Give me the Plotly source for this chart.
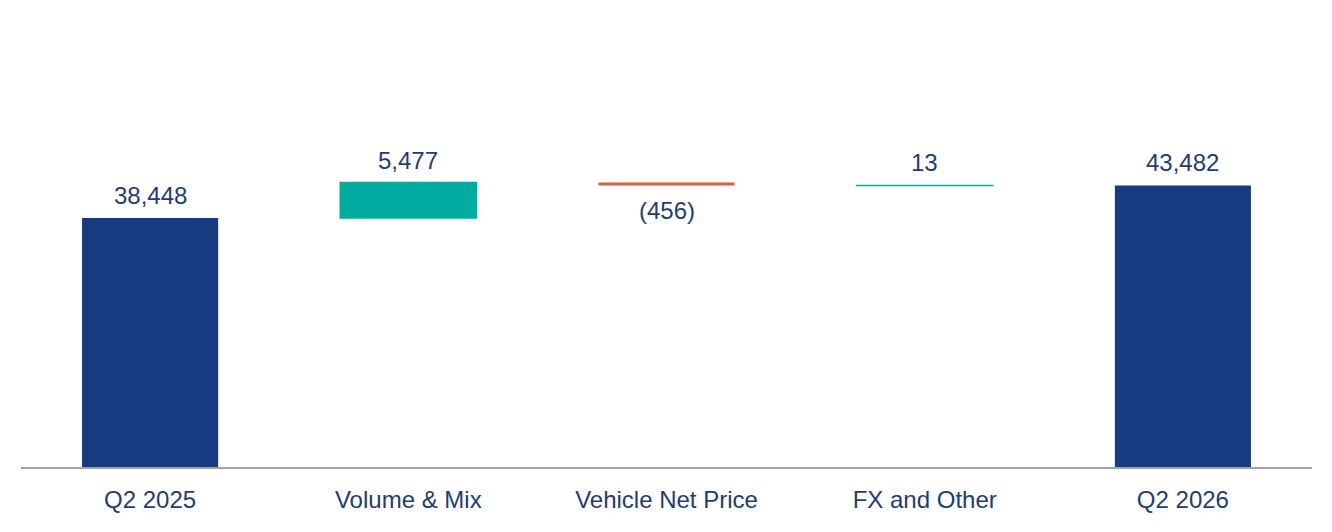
import plotly.graph_objects as go

# Waterfall data
categories = ['Q2 2025', 'Volume & Mix', 'Vehicle Net Price', 'FX and Other', 'Q2 2026']
measures = ['absolute', 'relative', 'relative', 'relative', 'total']
values = [38448, 5477, -456, 13, 0]

NAVY = '#173A80'
TEAL = '#00AC9F'
RED = '#D2603A'
TEXT = '#1E3C78'
FONT = 'Liberation Sans, Arial, sans-serif'


def fmt(v):
    # negatives in accounting style, e.g. (456)
    return f'({abs(v):,})' if v < 0 else f'{v:,}'


fig = go.Figure(go.Waterfall(
    x=categories,
    y=values,
    measure=measures,
    width=0.527,
    increasing=dict(marker=dict(color=TEAL, line=dict(color=TEAL, width=1.5))),
    decreasing=dict(marker=dict(color=RED, line=dict(color=RED, width=0))),
    totals=dict(marker=dict(color=NAVY, line=dict(color=NAVY, width=0))),
    connector=dict(visible=False),
    hoverinfo='skip',
))

# Labels: above the bar for increases/totals, below for decreases
running = 0
for cat, m, v in zip(categories, measures, values):
    if m == 'absolute':
        running = v
        label, top = v, v
    elif m == 'total':
        label, top = running, running
    else:
        label = v
        running += v
        top = running
    if label < 0:
        fig.add_annotation(x=cat, y=top, text=fmt(label), showarrow=False,
                           yanchor='top', yshift=-10,
                           font=dict(size=24, color=TEXT, family=FONT))
    else:
        fig.add_annotation(x=cat, y=top, text=fmt(label), showarrow=False,
                           yanchor='bottom', yshift=7,
                           font=dict(size=24, color=TEXT, family=FONT))

# page body adds an 8px offset, so margins are shifted to compensate
fig.update_layout(
    width=1332,
    height=532,
    margin=dict(l=13, r=28, t=2, b=73),
    plot_bgcolor='white',
    paper_bgcolor='white',
    showlegend=False,
    font=dict(family=FONT, size=24, color=TEXT),
)
fig.update_xaxes(
    showline=True, linecolor='#A3A3A3', linewidth=2,
    showgrid=False, ticks='', ticklabelstandoff=10,
    tickfont=dict(size=24, color=TEXT, family=FONT),
)
fig.update_yaxes(
    range=[0, 70560], visible=False, showgrid=False, zeroline=False,
)

fig.write_html('out.html')
